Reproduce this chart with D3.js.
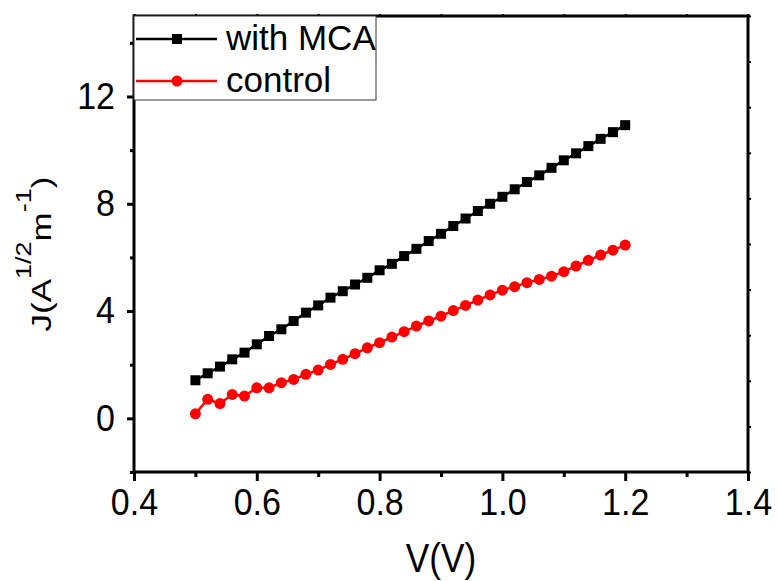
<!DOCTYPE html>
<html>
<head>
<meta charset="utf-8">
<script src="https://cdn.jsdelivr.net/npm/d3@7"></script>
<style>
  html, body { margin: 0; padding: 0; background: #fff; }
  svg { display: block; font-family: "Liberation Sans", Arial, sans-serif; }
</style>
</head>
<body>
<svg id="chart" width="777" height="581"></svg>
<script>
const voltages = [0.50,0.52,0.54,0.56,0.58,0.60,0.62,0.64,0.66,0.68,0.70,0.72,0.74,0.76,0.78,0.80,0.82,0.84,0.86,0.88,0.90,0.92,0.94,0.96,0.98,1.00,1.02,1.04,1.06,1.08,1.10,1.12,1.14,1.16,1.18,1.20];
const withMCA = [1.42,1.68,1.93,2.20,2.45,2.76,3.07,3.32,3.63,3.94,4.21,4.50,4.74,4.99,5.24,5.52,5.76,6.05,6.32,6.61,6.88,7.17,7.45,7.73,8.00,8.26,8.54,8.81,9.06,9.34,9.62,9.88,10.15,10.42,10.67,10.93];
const control = [0.17,0.71,0.55,0.89,0.83,1.14,1.14,1.33,1.45,1.64,1.80,2.01,2.20,2.41,2.63,2.82,3.03,3.23,3.44,3.63,3.81,4.02,4.21,4.41,4.60,4.78,4.91,5.06,5.18,5.30,5.47,5.68,5.89,6.09,6.27,6.46];
const xTicks = [0.4,0.6,0.8,1.0,1.2,1.4];
const xMinor = [0.5,0.7,0.9,1.1,1.3];
const yTicks = [0,4,8,12];
const yMinor = [-2,2,6,10,14];
const seriesNames = ["with MCA","control"];
const seriesColors = ["#000000","#ff0000"];

const svg = d3.select("#chart");
const L = 134, R = 748, T = 16, B = 472;
const x = d3.scaleLinear().domain([0.4,1.4]).range([L,R]);
const y = d3.scaleLinear().domain([-2,15]).range([B,T]);

// frame
svg.append("rect").attr("x",L).attr("y",T).attr("width",R-L).attr("height",B-T)
  .attr("fill","none").attr("stroke","#000").attr("stroke-width",3);

// bottom axis
const gx = svg.append("g").attr("transform",`translate(0,${B})`)
  .call(d3.axisBottom(x).tickValues(xTicks).tickFormat(d3.format(".1f")).tickSize(9).tickPadding(8));
const gxm = svg.append("g").attr("transform",`translate(0,${B})`)
  .call(d3.axisBottom(x).tickValues(xMinor).tickFormat("").tickSize(5));
// left axis
const gy = svg.append("g").attr("transform",`translate(${L},0)`)
  .call(d3.axisLeft(y).tickValues(yTicks).tickFormat(d3.format("d")).tickSize(7).tickPadding(12));
const gym = svg.append("g").attr("transform",`translate(${L},0)`)
  .call(d3.axisLeft(y).tickValues(yMinor).tickFormat("").tickSize(4));
// top & right tiny ticks
const gt = svg.append("g").attr("transform",`translate(0,${T})`)
  .call(d3.axisTop(x).ticks(10).tickFormat("").tickSize(2));
const rTicks = d3.range(11).map(i => -2 + i*1.7);
const gr = svg.append("g").attr("transform",`translate(${R},0)`)
  .call(d3.axisRight(y).tickValues(rTicks).tickFormat("").tickSize(3));

[gx,gxm,gy,gym,gt,gr].forEach(g => {
  g.select(".domain").remove();
  g.selectAll(".tick line").attr("stroke","#000").attr("stroke-width",3);
});
[gt,gr].forEach(g => g.selectAll(".tick line").attr("stroke-width",2));
gx.selectAll("text").attr("font-size",37).attr("fill","#000")
  .attr("font-family","Liberation Sans, Arial, sans-serif")
  .attr("transform","scale(0.92,1)");
gy.selectAll("text").attr("font-size",37).attr("fill","#000")
  .attr("font-family","Liberation Sans, Arial, sans-serif")
  .attr("x", -19/0.92).attr("transform","scale(0.92,1)");

// series
const data = [withMCA, control];
const line = d3.line().x((d,i) => x(voltages[i])).y(d => y(d));
data.forEach((vals, s) => {
  svg.append("path").datum(vals).attr("d", line)
    .attr("fill","none").attr("stroke",seriesColors[s]).attr("stroke-width",2.5);
  if (s === 0) {
    svg.append("g").selectAll("rect").data(vals).join("rect")
      .attr("x",(d,i) => x(voltages[i]) - 5).attr("y", d => y(d) - 5)
      .attr("width",10).attr("height",10).attr("fill",seriesColors[s]);
  } else {
    svg.append("g").selectAll("circle").data(vals).join("circle")
      .attr("cx",(d,i) => x(voltages[i])).attr("cy", d => y(d))
      .attr("r",5.5).attr("fill",seriesColors[s]);
  }
});

// legend
const lg = svg.append("g");
lg.append("rect").attr("x",L).attr("y",T).attr("width",242).attr("height",84)
  .attr("fill","#fff").attr("stroke","#333").attr("stroke-width",1);
const legY = [39, 81];
seriesNames.forEach((name, s) => {
  lg.append("line").attr("x1",136).attr("x2",217).attr("y1",legY[s]).attr("y2",legY[s])
    .attr("stroke",seriesColors[s]).attr("stroke-width",2.5);
  if (s === 0) {
    lg.append("rect").attr("x",172).attr("y",legY[s]-5).attr("width",10).attr("height",10).attr("fill",seriesColors[s]);
  } else {
    lg.append("circle").attr("cx",177).attr("cy",legY[s]).attr("r",5.5).attr("fill",seriesColors[s]);
  }
  lg.append("text").attr("x",226).attr("y",legY[s]+11).attr("font-size",35).attr("fill","#000").text(name);
});

// axis titles
svg.append("text").attr("transform","translate(441,572) scale(0.88,1)").attr("text-anchor","middle")
  .attr("font-size",40).attr("fill","#000").text("V(V)");

const yt = svg.append("text").attr("transform","translate(51,254) rotate(-90) scale(1,0.8)")
  .attr("text-anchor","middle").attr("font-size",35).attr("fill","#000");
yt.append("tspan").text("J(A");
yt.append("tspan").attr("font-size",27).attr("dy",-25).text("1/2");
yt.append("tspan").attr("dy",25).text("m");
yt.append("tspan").attr("font-size",27).attr("dy",-25).text("-1");
yt.append("tspan").attr("dy",25).text(")");
</script>
</body>
</html>
